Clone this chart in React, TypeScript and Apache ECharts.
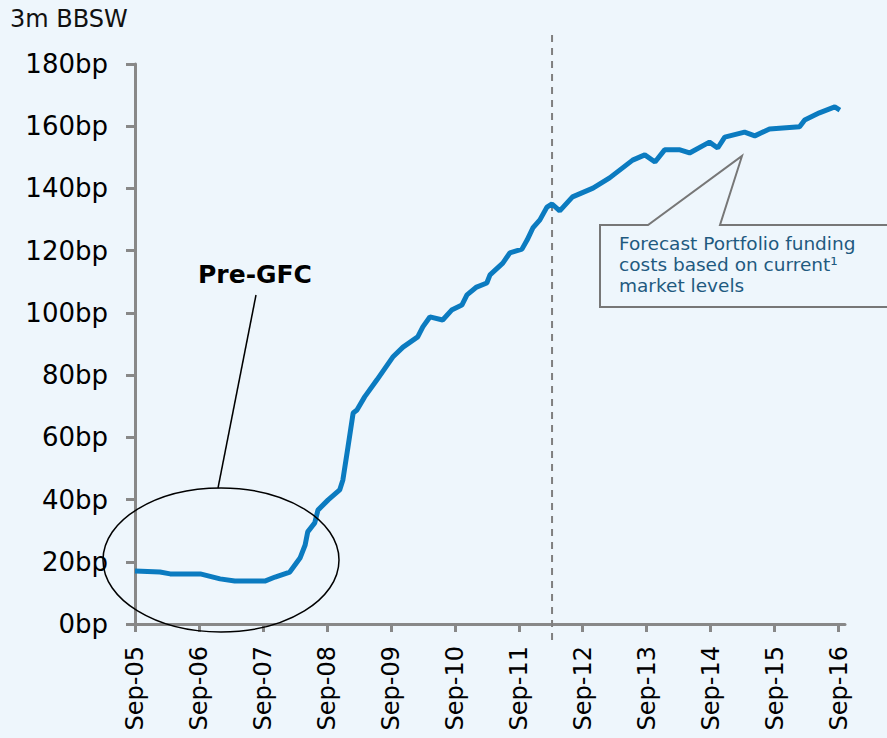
import React, { useEffect, useRef } from "react";
import * as echarts from "echarts";

// Years since Sep-05 (x) and 3m BBSW spread in bp (y)
const YEARS = [
  0, 0.39, 0.55, 1.02, 1.33, 1.56, 2.03, 2.19, 2.42, 2.58, 2.66, 2.7, 2.81, 2.86,
  3.02, 3.2, 3.25, 3.33, 3.41, 3.47, 3.59, 3.78, 4.03, 4.19, 4.42, 4.5, 4.61, 4.81,
  4.95, 5.11, 5.19, 5.34, 5.5, 5.55, 5.75, 5.86, 6.05, 6.13, 6.22, 6.33, 6.44, 6.52,
  6.64, 6.84, 7.16, 7.42, 7.78, 7.97, 8.13, 8.28, 8.52, 8.67, 8.98, 9.11, 9.22, 9.53,
  9.69, 9.92, 10.39, 10.47, 10.7, 10.94, 11.02,
];
const BBSW = [
  17.0, 16.7, 16.1, 16.1, 14.5, 13.8, 13.8, 15.1, 16.7, 21.2, 25.4, 29.6, 32.5, 36.6,
  39.9, 43.1, 46.3, 56.9, 67.8, 68.8, 73.0, 78.4, 85.8, 89.0, 92.3, 95.5, 98.7, 97.7,
  100.9, 102.5, 105.8, 108.3, 109.6, 112.2, 116.0, 119.3, 120.5, 123.4, 127.3, 129.9, 134.0, 135.0,
  132.8, 137.3, 140.1, 143.4, 149.1, 150.8, 148.5, 152.4, 152.4, 151.4, 154.9, 153.0, 156.5, 158.1,
  156.9, 159.1, 159.8, 162.0, 164.3, 166.2, 165.2,
];
const X_TICK_LABELS = [
  "Sep-05", "Sep-06", "Sep-07", "Sep-08", "Sep-09", "Sep-10",
  "Sep-11", "Sep-12", "Sep-13", "Sep-14", "Sep-15", "Sep-16",
];
const FORECAST_START = 6.52; // ~Mar-12

const BG = "#EEF6FC";

export default function App() {
  const ref = useRef<HTMLDivElement>(null);

  useEffect(() => {
    if (!ref.current) return;
    const chart = echarts.init(ref.current, null, { renderer: "svg" });
    const data = YEARS.map((x, i) => [x, BBSW[i]]);
    const tickVals = X_TICK_LABELS.map((_, i) => i);

    chart.setOption({
      animation: false,
      backgroundColor: BG,
      grid: { left: 135, right: 42, top: 64, bottom: 114, containLabel: false },
      xAxis: {
        type: "value",
        min: 0,
        max: 11.1,
        interval: 1,
        splitLine: { show: false },
        axisLine: { show: true, lineStyle: { color: "#888888", width: 3 } },
        axisTick: {
          show: true,
          length: 8,
          customValues: tickVals,
          lineStyle: { color: "#888888", width: 3 },
        },
        axisLabel: {
          rotate: 90,
          margin: 22,
          customValues: tickVals,
          fontFamily: "DejaVu Sans",
          fontSize: 24,
          color: "#000",
          formatter: (v: number) => X_TICK_LABELS[Math.round(v)] ?? "",
        },
      },
      yAxis: {
        type: "value",
        min: 0,
        max: 180,
        interval: 20,
        splitLine: { show: false },
        axisLine: { show: true, lineStyle: { color: "#888888", width: 3 } },
        axisTick: { show: true, length: 9, lineStyle: { color: "#888888", width: 3 } },
        axisLabel: {
          margin: 27,
          fontFamily: "DejaVu Sans",
          fontSize: 26,
          color: "#000",
          formatter: (v: number) => `${v}bp`,
        },
      },
      series: [
        {
          type: "line",
          data,
          showSymbol: false,
          symbol: "none",
          lineStyle: { color: "#0B7BC0", width: 5 },
          z: 3,
        },
      ],
    });

    const [fx] = chart.convertToPixel({ gridIndex: 0 }, [FORECAST_START, 0]) as number[];

    chart.setOption({
      graphic: [
        {
          type: "text",
          left: 10,
          top: 7,
          style: { text: "3m BBSW", font: "24px 'DejaVu Sans'", fill: "#111" },
        },
        {
          type: "line",
          shape: { x1: fx, y1: 35, x2: fx, y2: 645 },
          style: { stroke: "#7f7f7f", lineWidth: 2, lineDash: [7, 6] },
          z: 1,
        },
        {
          type: "ellipse",
          shape: { cx: 221, cy: 560, rx: 118, ry: 72 },
          style: { fill: "none", stroke: "#000", lineWidth: 1.5 },
          z: 5,
        },
        {
          type: "line",
          shape: { x1: 256, y1: 295, x2: 218, y2: 488 },
          style: { stroke: "#000", lineWidth: 1.5 },
          z: 5,
        },
        {
          type: "text",
          x: 255,
          y: 274,
          style: {
            text: "Pre-GFC",
            font: "bold 25px 'DejaVu Sans'",
            fill: "#000",
            align: "center",
            verticalAlign: "middle",
          },
          z: 5,
        },
        {
          type: "polygon",
          shape: {
            points: [
              [600, 225], [648, 225], [742, 156], [720, 225],
              [892, 225], [892, 307], [600, 307],
            ],
          },
          style: { fill: BG, stroke: "#777", lineWidth: 2 },
          z: 5,
        },
        {
          type: "text",
          x: 619,
          y: 233,
          style: {
            text: "Forecast Portfolio funding\ncosts based on current\u00B9\nmarket levels",
            font: "18.5px 'DejaVu Sans'",
            lineHeight: 21,
            fill: "#1F5A80",
          },
          z: 6,
        },
      ],
    });

    return () => chart.dispose();
  }, []);

  return (
    <div
      ref={ref}
      style={{ position: "fixed", left: 0, top: 0, width: 887, height: 738 }}
    />
  );
}
